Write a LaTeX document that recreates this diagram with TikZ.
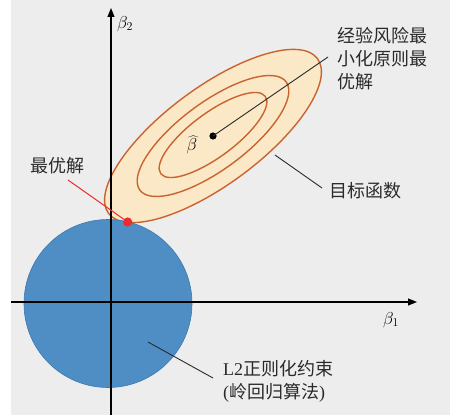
\documentclass[tikz,border=0pt]{standalone}
\usepackage{fontspec}
\newfontfamily\cjk{Noto Sans CJK SC}
\newfontfamily\serifL{Liberation Serif}
\usetikzlibrary{arrows.meta}
\definecolor{bgc}{HTML}{EDEDED}
\definecolor{blueC}{HTML}{4F8EC5}
\definecolor{blueE}{HTML}{3F78AC}
\definecolor{ellF}{HTML}{FAE8C6}
\definecolor{ellS}{HTML}{C9642F}
\definecolor{redP}{HTML}{EE2A2E}
\definecolor{txt}{HTML}{2A2A2A}
\tikzset{
  axis/.style={line width=1.1pt, black, -{Triangle[length=9pt,width=7pt]}},
  contour/.style={draw=ellS, line width=1.4pt},
  leader/.style={line width=0.9pt, txt},
  lab/.style={inner sep=0pt, text=txt, font=\cjk\fontsize{18}{23.3}\selectfont, align=left},
  mlab/.style={inner sep=0pt, text=black, font=\fontsize{17}{20}\selectfont}
}
\begin{document}
\begin{tikzpicture}[x=1pt,y=-1pt]
\useasboundingbox (0,0) rectangle (454,417);
\fill[bgc] (11,0) rectangle (450,415);
% objective function contours
\fill[ellF, rotate around={36.5:(213,136)}] (213,136) ellipse [x radius=130pt, y radius=48.5pt];
\draw[contour, rotate around={36.5:(213,136)}] (213,136) ellipse [x radius=130pt, y radius=48.5pt];
\draw[contour, rotate around={36.5:(213,136)}] (213,136) ellipse [x radius=91pt, y radius=33.6pt];
\draw[contour, rotate around={36.5:(213,135)}] (213,135) ellipse [x radius=65pt, y radius=22pt];
% L2 constraint disc
\fill[blueC] (108,303.5) circle [radius=84pt];
\draw[blueE, line width=0.6pt] (108,303.5) circle [radius=84pt];
% axes
\coordinate (xs) at (11,302);
\coordinate (xe) at (417,302);
\coordinate (ys) at (111,415);
\coordinate (ye) at (111,8);
\draw[axis] (xs) -- (xe);
\draw[axis] (ys) -- (ye);
\node[mlab] (b1) at (391,320) {$\beta_1$};
\node[mlab] (b2) at (125,24) {$\beta_2$};
% points
\fill[black] (213,136) circle [radius=3.6pt] coordinate (bhat);
\node[mlab] (bhatl) at (192,145) {$\widehat{\beta}$};
\coordinate (opt) at (127.7,222);
% labels
\node[lab, anchor=west] (erm) at (337,58.5) {经验风险最\\小化原则最\\优解};
\node[lab, anchor=west] (obj) at (329,191) {目标函数};
\node[lab, anchor=west] (best) at (30,166) {最优解};
\node[lab, anchor=west] (ridge) at (223,381) {{\serifL L2}正则化约束\\{\serifL (}岭回归算法{\serifL )}};
% leader lines
\coordinate (ermE) at (328,57);
\coordinate (objS) at (275,155);
\coordinate (objE) at (322,188);
\coordinate (rS) at (148,342);
\coordinate (rE) at (213,378);
\coordinate (bestS) at (68,180);
\draw[leader] (bhat) -- (ermE);
\draw[leader] (objS) -- (objE);
\draw[leader] (rS) -- (rE);
\draw[redP, line width=1pt] (bestS) -- (opt);
\fill[redP] (opt) circle [radius=4.6pt];
\end{tikzpicture}
\end{document}
